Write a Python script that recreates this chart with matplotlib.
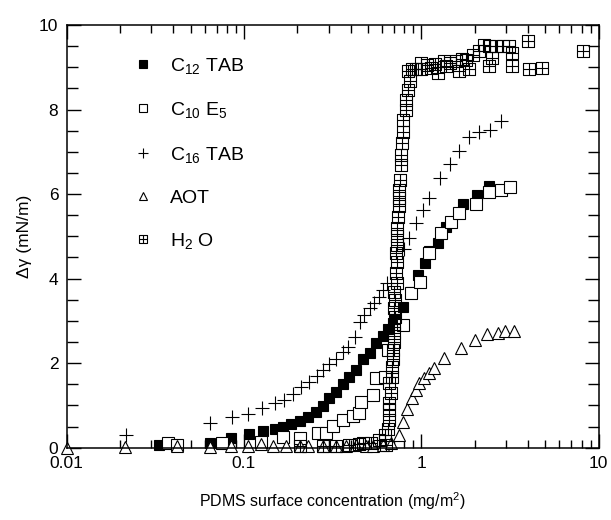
import matplotlib
matplotlib.use("Agg")
import matplotlib.pyplot as plt
from matplotlib.path import Path
from matplotlib.lines import Line2D
from matplotlib.ticker import FixedLocator, MultipleLocator, NullFormatter

plt.rcParams['font.family'] = ['Liberation Sans', 'DejaVu Sans']
plt.rcParams['mathtext.default'] = 'regular'

## data (x in mg/m2, y in mN/m)
c12_x = [0.033, 0.064, 0.085, 0.107, 0.128, 0.149, 0.166, 0.184, 0.206, 0.229, 0.255, 0.278,
         0.303, 0.330, 0.360, 0.393, 0.428, 0.468, 0.510, 0.556, 0.606, 0.646, 0.71, 0.785,
         0.876, 0.953, 1.05, 1.11, 1.24, 1.38, 1.71, 2.05, 2.39]
c12_y = [0.06, 0.11, 0.23, 0.33, 0.40, 0.44, 0.49, 0.56, 0.64, 0.73, 0.85, 0.98,
         1.17, 1.32, 1.50, 1.68, 1.85, 2.09, 2.25, 2.48, 2.64, 2.80, 3.05, 3.34,
         3.68, 4.09, 4.38, 4.66, 4.84, 5.23, 5.77, 5.98, 6.20]

c10_x = [0.0372, 0.0418, 0.0754, 0.125, 0.166, 0.206, 0.26, 0.29, 0.316, 0.36, 0.41, 0.446,
         0.455, 0.532, 0.556, 0.62, 0.646, 0.785, 0.876, 0.98, 1.11, 1.29, 1.47, 1.64,
         2.03, 2.42, 2.8, 3.17]
c10_y = [0.10, 0.06, 0.10, 0.14, 0.26, 0.24, 0.35, 0.34, 0.52, 0.65, 0.75, 0.82,
         1.08, 1.24, 1.64, 1.68, 2.31, 2.90, 3.65, 3.92, 4.60, 5.08, 5.35, 5.55,
         5.77, 6.06, 6.09, 6.17]

c16_x = [0.0217, 0.0645, 0.0855, 0.106, 0.127, 0.149, 0.169, 0.188, 0.210, 0.234, 0.257, 0.280,
         0.303, 0.330, 0.360, 0.385, 0.420, 0.448, 0.477, 0.510, 0.544, 0.580, 0.606, 0.640,
         0.80, 0.855, 0.933, 1.02, 1.11, 1.28, 1.45, 1.63, 1.86, 2.12, 2.45, 2.8]
c16_y = [0.30, 0.59, 0.72, 0.80, 0.94, 1.06, 1.14, 1.28, 1.43, 1.56, 1.69, 1.84,
         1.98, 2.11, 2.27, 2.39, 2.63, 2.98, 3.14, 3.30, 3.42, 3.57, 3.73, 3.89,
         4.70, 4.95, 5.32, 5.63, 5.90, 6.38, 6.72, 7.03, 7.34, 7.47, 7.52, 7.72]

aot_x = [0.01, 0.0214, 0.0418, 0.064, 0.085, 0.106, 0.125, 0.146, 0.173, 0.206, 0.229, 0.278,
         0.33, 0.376, 0.428, 0.49, 0.532, 0.606, 0.67, 0.75, 0.79, 0.835, 0.88, 0.93,
         0.97, 1.03, 1.10, 1.18, 1.34, 1.67, 2.0, 2.35, 2.70, 2.97, 3.33]
aot_y = [0.0, 0.02, 0.05, 0.02, 0.04, 0.03, 0.08, 0.05, 0.04, 0.05, 0.04, 0.04,
         0.05, 0.05, 0.06, 0.05, 0.04, 0.06, 0.10, 0.30, 0.61, 0.92, 1.17, 1.36,
         1.52, 1.64, 1.77, 1.88, 2.12, 2.37, 2.55, 2.69, 2.72, 2.76, 2.77]

h2o_x = [0.206, 0.278, 0.33, 0.39, 0.446, 0.468, 0.52, 0.58, 0.62, 0.63, 0.646, 0.66,
         0.66, 0.66, 0.67, 0.66, 0.68, 0.68, 0.69, 0.69, 0.70, 0.70, 0.70, 0.71,
         0.70, 0.71, 0.70, 0.73, 0.72, 0.73, 0.72, 0.73, 0.73, 0.73, 0.74, 0.75,
         0.75, 0.75, 0.76, 0.77, 0.77, 0.78, 0.785, 0.79, 0.82, 0.82, 0.84, 0.86,
         0.84, 0.88, 0.93, 1.0, 1.0, 1.07, 1.14, 1.24, 1.20, 1.34, 1.37, 1.45,
         1.57, 1.64, 1.70, 1.79, 1.86, 1.95, 2.12, 2.25, 2.42, 2.42, 2.50, 2.62,
         2.9, 3.1, 3.25, 3.25, 4.0, 4.05, 4.8, 8.2]
h2o_y = [0.05, 0.05, 0.05, 0.06, 0.08, 0.10, 0.10, 0.18, 0.30, 0.06, 0.45, 0.65,
         0.89, 1.05, 1.30, 1.52, 1.68, 1.90, 2.10, 2.31, 2.50, 2.72, 2.92, 3.10,
         3.30, 3.50, 3.69, 3.89, 4.13, 4.40, 4.60, 4.80, 5.00, 5.19, 5.45, 5.71,
         5.90, 6.10, 6.34, 6.69, 6.93, 7.21, 7.46, 7.76, 8.00, 8.23, 8.47, 8.67,
         8.90, 8.95, 8.96, 9.10, 8.95, 9.05, 8.99, 8.87, 9.08, 9.14, 9.02, 9.10,
         9.14, 8.90, 9.20, 9.18, 8.95, 9.30, 9.38, 9.52, 9.50, 9.02, 9.22, 9.50,
         9.50, 9.50, 9.34, 9.02, 9.62, 8.95, 8.99, 9.38]

labels = [r"C$_{12}$ TAB", r"C$_{10}$ E$_5$", r"C$_{16}$ TAB", "AOT", r"H$_2$ O"]

## square with a cross inside, for the water points
boxplus = Path([(-1, -1), (1, -1), (1, 1), (-1, 1), (-1, -1), (0, -1), (0, 1), (-1, 0), (1, 0)],
               [Path.MOVETO, Path.LINETO, Path.LINETO, Path.LINETO, Path.CLOSEPOLY,
                Path.MOVETO, Path.LINETO, Path.MOVETO, Path.LINETO])

fig = plt.figure(figsize=(6.11, 5.2), dpi=100)
ax = fig.add_axes([0.109, 0.139, 0.871, 0.813])

styles = [
    dict(marker='s', ms=7.5, mfc='black', mec='black', mew=0.8),
    dict(marker='s', ms=8, mfc='white', mec='black', mew=0.8),
    dict(marker='+', ms=9.5, mec='black', mew=0.8),
    dict(marker='^', ms=8, mfc='white', mec='black', mew=0.8),
    dict(marker=boxplus, ms=8, mfc='none', mec='black', mew=0.8),
]
series = [(c12_x, c12_y), (c10_x, c10_y), (c16_x, c16_y), (aot_x, aot_y), (h2o_x, h2o_y)]
for i in range(5):
    x, y = series[i]
    ax.plot(x, y, ls='none', clip_on=False, **styles[i])

ax.set_xscale('log')
ax.set_xlim(0.01, 10)
ax.set_ylim(0, 10)

ax.xaxis.set_major_locator(FixedLocator([0.01, 0.1, 1, 10]))
ax.set_xticklabels(["0.01", "0.1", "1", "10"])
ax.xaxis.set_minor_locator(FixedLocator([m * d for d in [0.01, 0.1, 1] for m in range(2, 10)]))
ax.xaxis.set_minor_formatter(NullFormatter())
ax.yaxis.set_major_locator(MultipleLocator(2))
ax.yaxis.set_minor_locator(MultipleLocator(0.5))

ax.tick_params(which='both', direction='in', top=True, right=True, width=1, labelsize=12.5)
ax.tick_params(which='major', length=10, pad=6)
ax.tick_params(axis='y', which='minor', length=8)
ax.tick_params(axis='x', which='minor', length=6)
for sp in ax.spines.values():
    sp.set_linewidth(1.1)

ax.set_xlabel(r"PDMS surface concentration (mg/m$^2$)", fontsize=11.5, labelpad=14)
ax.set_ylabel("Δγ (mN/m)", fontsize=12.5, labelpad=5)

handles = [Line2D([], [], ls='none', **dict(styles[i], ms=styles[i]['ms'] * 0.8)) for i in range(5)]
ax.legend(handles, labels, loc='upper left', bbox_to_anchor=(0.11, 0.945), frameon=False,
          fontsize=14, labelspacing=1.25, handlelength=1.0, handletextpad=0.9,
          borderaxespad=0)

fig.savefig("out.png", dpi=100)
